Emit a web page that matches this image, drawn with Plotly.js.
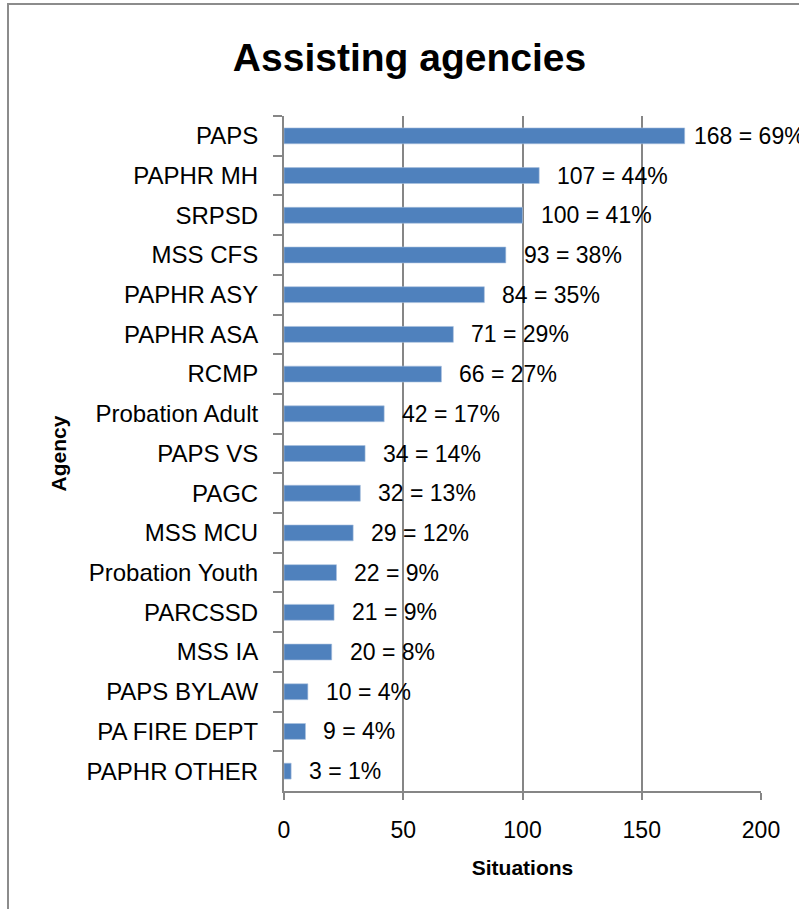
<!DOCTYPE html>
<html>
<head>
<meta charset="utf-8">
<script src="https://cdn.plot.ly/plotly-3.0.1.min.js"></script>
<style>
html, body { margin: 0; padding: 0; background: #fff; }
#chart { width: 799px; height: 909px; }
</style>
</head>
<body>
<div id="chart"></div>
<script>
// Data
const agencies = ["PAPS", "PAPHR MH", "SRPSD", "MSS CFS", "PAPHR ASY", "PAPHR ASA", "RCMP",
  "Probation Adult", "PAPS VS", "PAGC", "MSS MCU", "Probation Youth", "PARCSSD", "MSS IA",
  "PAPS BYLAW", "PA FIRE DEPT", "PAPHR OTHER"];
const situations = [168, 107, 100, 93, 84, 71, 66, 42, 34, 32, 29, 22, 21, 20, 10, 9, 3];
const percents = [69, 44, 41, 38, 35, 29, 27, 17, 14, 13, 12, 9, 9, 8, 4, 4, 1];
const xTicks = [0, 50, 100, 150, 200];

const FONT = "Liberation Sans, Arial, sans-serif";
const GRAY = "#868686";

const trace = {
  type: "bar",
  orientation: "h",
  x: situations,
  y: agencies,
  width: 0.4,
  marker: { color: "#4F81BD", line: { color: "#A7BFDE", width: 0.6 } },
  hoverinfo: "skip"
};

const annotations = agencies.map((a, i) => ({
  x: situations[i],
  y: a,
  xref: "x",
  yref: "y",
  text: situations[i] + " = " + percents[i] + "%",
  showarrow: false,
  xanchor: "left",
  yanchor: "middle",
  xshift: i === 0 ? 7 : 16,
  font: { family: FONT, size: 23, color: "#000" }
}));

// plot area: x 284..761, y 116..791
const L = 284, R = 761, T = 116, B = 791;
const pw = R - L, ph = B - T;
const shapes = [{
  type: "rect", xref: "paper", yref: "paper",
  x0: (8 - L) / pw, x1: (1200 - L) / pw,
  y0: (B - 1200) / ph, y1: (B - 4) / ph,
  line: { color: "#8c8c8c", width: 2 }, fillcolor: "rgba(0,0,0,0)", layer: "below"
}];

const layout = {
  width: 799, height: 909,
  margin: { l: L, r: 799 - R, t: T, b: 909 - B, pad: 0 },
  paper_bgcolor: "#fff", plot_bgcolor: "#fff",
  showlegend: false,
  font: { family: FONT, size: 23, color: "#000" },
  title: {
    text: "<b>Assisting agencies</b>",
    x: 409.5 / 799, xanchor: "center", xref: "container",
    y: 1 - 57 / 909, yanchor: "middle", yref: "container",
    font: { family: FONT, size: 39, color: "#000" }
  },
  xaxis: {
    range: [0, 200],
    tickvals: xTicks,
    ticktext: xTicks.map(String),
    showgrid: true, gridcolor: GRAY, gridwidth: 2,
    zeroline: false,
    showline: true, linecolor: GRAY, linewidth: 2,
    ticks: "outside", ticklen: 7, tickcolor: GRAY, tickwidth: 2,
    ticklabelstandoff: 10,
    tickfont: { family: FONT, size: 23, color: "#000" },
    title: { text: "<b>Situations</b>", standoff: 19, font: { family: FONT, size: 21, color: "#000" } },
    fixedrange: true
  },
  yaxis: {
    type: "category",
    autorange: "reversed",
    showgrid: false, zeroline: false,
    showline: true, linecolor: GRAY, linewidth: 2,
    ticks: "outside", ticklen: 9, tickcolor: GRAY, tickwidth: 2,
    tickson: "boundaries",
    ticklabelstandoff: 19,
    tickfont: { family: FONT, size: 24, color: "#000" },
    title: { text: "<b>Agency</b>", standoff: 14, font: { family: FONT, size: 21, color: "#000" } },
    fixedrange: true
  },
  bargap: 0.6,
  annotations: annotations,
  shapes: shapes
};

Plotly.newPlot("chart", [trace], layout, { staticPlot: true, displayModeBar: false });
</script>
</body>
</html>
